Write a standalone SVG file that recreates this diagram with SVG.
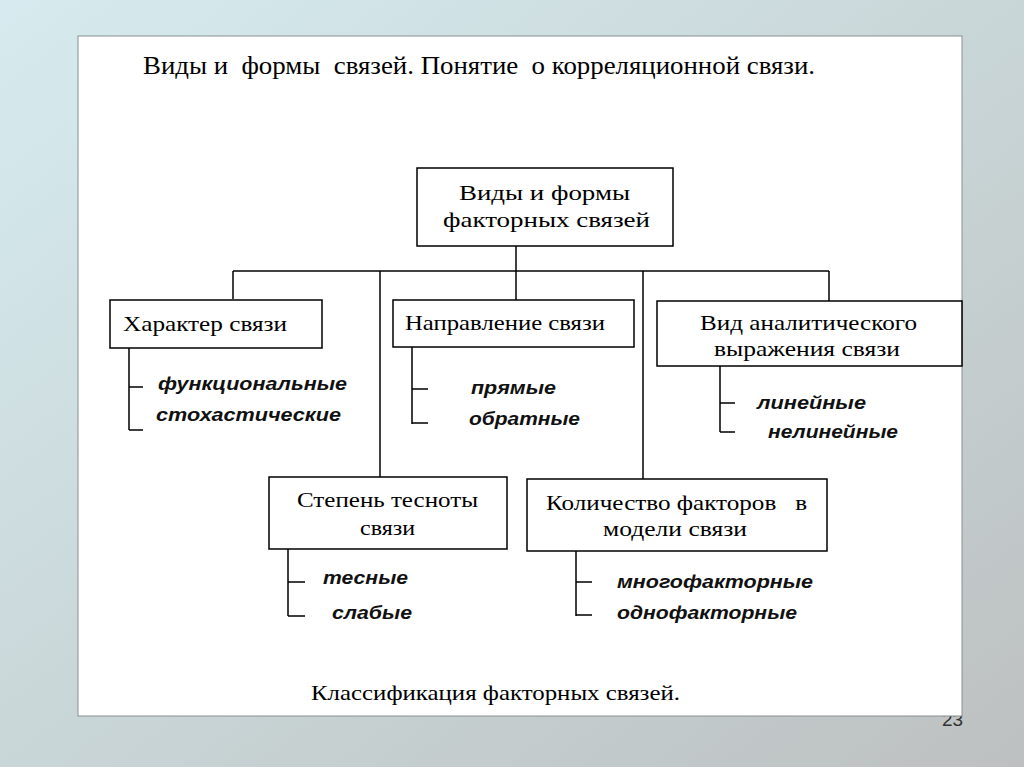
<svg xmlns="http://www.w3.org/2000/svg" width="1024" height="767" viewBox="0 0 1024 767">
<defs>
<linearGradient id="bg" x1="0" y1="0" x2="1" y2="1">
<stop offset="0" stop-color="#d6ebef"/>
<stop offset="0.5" stop-color="#c9d6d8"/>
<stop offset="1" stop-color="#bdc0c0"/>
</linearGradient>
<style>
.box{fill:#fff;stroke:#000;stroke-width:1.5}
.ln{stroke:#000;stroke-width:1.5;fill:none}
.s{font-family:"Liberation Serif","DejaVu Serif",serif;font-size:21px;fill:#000}
.t{font-family:"Liberation Serif","DejaVu Serif",serif;font-size:25px;fill:#000}
.i{font-family:"Liberation Sans",Arial,sans-serif;font-size:18px;font-weight:bold;font-style:italic;fill:#111}
</style>
</defs>
<rect x="0" y="0" width="1024" height="767" fill="url(#bg)"/>
<text x="942" y="726" font-family="Liberation Sans,Arial,sans-serif" font-size="19" fill="#333">23</text>
<rect x="78" y="36" width="884" height="680" fill="#fff" stroke="#8a9090" stroke-width="1"/>
<text class="t" x="143" y="74" textLength="672" lengthAdjust="spacingAndGlyphs" xml:space="preserve">Виды и  формы  связей. Понятие  о корреляционной связи.</text>
<g id="connectors">
<line class="ln" x1="516" y1="246" x2="516" y2="271"/>
<line class="ln" x1="233" y1="271" x2="829" y2="271"/>
<line class="ln" x1="233" y1="271" x2="233" y2="299"/>
<line class="ln" x1="380" y1="271" x2="380" y2="477"/>
<line class="ln" x1="516" y1="271" x2="516" y2="300"/>
<line class="ln" x1="643" y1="271" x2="643" y2="479"/>
<line class="ln" x1="829" y1="271" x2="829" y2="301"/>
<path class="ln" d="M129,348 V430 M129,387 H143 M129,430 H143"/>
<path class="ln" d="M412,347 V424 M412,389 H428 M412,423 H428"/>
<path class="ln" d="M720,366 V432 M720,403 H735 M720,432 H735"/>
<path class="ln" d="M288,549 V616 M288,582 H305 M288,616 H305"/>
<path class="ln" d="M576,551 V616 M576,582 H592 M576,615 H592"/>
</g>
<g id="root">
<rect class="box" x="417" y="168" width="256" height="78"/>
<text class="s" x="459" y="200" textLength="171" lengthAdjust="spacingAndGlyphs">Виды и формы</text>
<text class="s" x="443" y="227" textLength="207" lengthAdjust="spacingAndGlyphs">факторных связей</text>
</g>
<g id="character">
<rect class="box" x="110" y="300" width="212" height="48"/>
<text class="s" x="123" y="331" textLength="164" lengthAdjust="spacingAndGlyphs">Характер связи</text>
<text class="i" x="158" y="390" textLength="189" lengthAdjust="spacingAndGlyphs">функциональные</text>
<text class="i" x="156" y="421" textLength="185" lengthAdjust="spacingAndGlyphs">стохастические</text>
</g>
<g id="direction">
<rect class="box" x="393" y="300" width="241" height="47"/>
<text class="s" x="405" y="330" textLength="200" lengthAdjust="spacingAndGlyphs">Направление связи</text>
<text class="i" x="471" y="394" textLength="85" lengthAdjust="spacingAndGlyphs">прямые</text>
<text class="i" x="469" y="425" textLength="111" lengthAdjust="spacingAndGlyphs">обратные</text>
</g>
<g id="analytic">
<rect class="box" x="657" y="301" width="305" height="65"/>
<text class="s" x="700" y="330" textLength="217" lengthAdjust="spacingAndGlyphs">Вид аналитического</text>
<text class="s" x="714" y="356" textLength="186" lengthAdjust="spacingAndGlyphs">выражения связи</text>
<text class="i" x="757" y="409" textLength="109" lengthAdjust="spacingAndGlyphs">линейные</text>
<text class="i" x="768" y="438" textLength="130" lengthAdjust="spacingAndGlyphs">нелинейные</text>
</g>
<g id="closeness">
<rect class="box" x="269" y="477" width="238" height="72"/>
<text class="s" x="297" y="507" textLength="181" lengthAdjust="spacingAndGlyphs">Степень тесноты</text>
<text class="s" x="360" y="535" textLength="55" lengthAdjust="spacingAndGlyphs">связи</text>
<text class="i" x="323" y="584" textLength="85" lengthAdjust="spacingAndGlyphs">тесные</text>
<text class="i" x="332" y="619" textLength="80" lengthAdjust="spacingAndGlyphs">слабые</text>
</g>
<g id="factors">
<rect class="box" x="527" y="479" width="300" height="72"/>
<text class="s" x="546" y="510" textLength="261" lengthAdjust="spacingAndGlyphs" xml:space="preserve">Количество факторов   в</text>
<text class="s" x="603" y="536" textLength="144" lengthAdjust="spacingAndGlyphs">модели связи</text>
<text class="i" x="617" y="588" textLength="196" lengthAdjust="spacingAndGlyphs">многофакторные</text>
<text class="i" x="617" y="619" textLength="180" lengthAdjust="spacingAndGlyphs">однофакторные</text>
</g>
<text class="s" x="311" y="700" textLength="369" lengthAdjust="spacingAndGlyphs">Классификация факторных связей.</text>
</svg>
